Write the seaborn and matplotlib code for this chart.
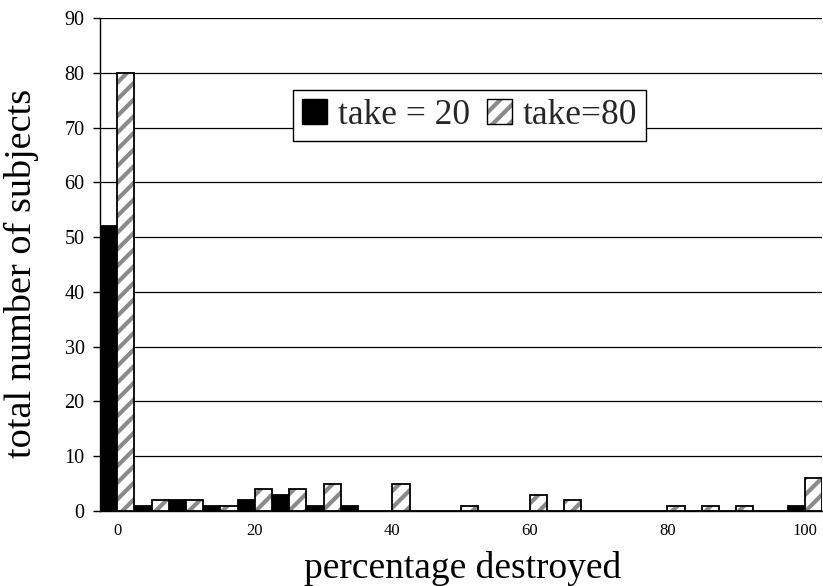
import pandas as pd
import numpy as np
import matplotlib.pyplot as plt
import matplotlib.colors as mcolors
import matplotlib.patches as mpatches
import seaborn as sns

# 1. DATA: subjects per "percentage destroyed" bin (steps of 5)
pct_bins = list(range(0, 101, 5))
take_20 = [52, 1, 2, 1, 2, 3, 1, 1, 0, 0, 0, 0, 0, 0, 0, 0, 0, 0, 0, 0, 1]
take_80 = [80, 2, 2, 1, 4, 4, 5, 0, 5, 0, 1, 0, 3, 2, 0, 0, 1, 1, 1, 0, 6]
group_names = ['take = 20', 'take=80']
x_tick_labels = ['0', '20', '40', '60', '80', '100']
y_ticks = list(range(0, 91, 10))

df = pd.DataFrame({
    'pct': pct_bins * 2,
    'count': take_20 + take_80,
    'group': [group_names[0]] * len(pct_bins) + [group_names[1]] * len(pct_bins),
})

# 2. STYLE
sns.set_theme(style='ticks')
plt.rcParams['font.family'] = ['Liberation Serif', 'DejaVu Serif']
plt.rcParams['hatch.linewidth'] = 3
hatch_gray = mcolors.to_rgba('#8a8a8a')

fig = plt.figure(figsize=(8.23, 5.86), dpi=100)
ax = fig.add_axes([0.1215, 0.128, 0.8775, 0.841])

sns.barplot(data=df, x='pct', y='count', hue='group', order=pct_bins,
            hue_order=group_names, palette=['black', 'white'], width=1.0,
            edgecolor='black', linewidth=1.3, legend=False, ax=ax, zorder=3)

# hatch the take=80 bars with gray stripes (edge stays black)
for bar in ax.containers[1]:
    bar.set_hatch('//')
    bar._hatch_color = hatch_gray

# 3. AXES
ax.set_xlim(-0.5, len(pct_bins) - 0.5)
ax.set_ylim(0, 90)
ax.set_yticks(y_ticks)
ax.set_xticks([pct_bins.index(int(t)) for t in x_tick_labels], x_tick_labels)
ax.tick_params(axis='y', direction='out', length=5, width=1, pad=6,
               labelsize=14.5, colors='black')
ax.tick_params(axis='x', length=0, pad=9, labelsize=12, colors='black')
ax.yaxis.grid(True, color='black', linewidth=0.9)
ax.set_axisbelow(True)
for side in ['top', 'right']:
    ax.spines[side].set_visible(False)
for side in ['left', 'bottom']:
    ax.spines[side].set_color('black')
    ax.spines[side].set_linewidth(1)

ax.set_xlabel('percentage destroyed', fontsize=27, color='black')
ax.set_ylabel('total number of subjects', fontsize=27.5, color='black')
ax.xaxis.set_label_coords(0.502, -0.081)
ax.yaxis.set_label_coords(-0.084, 0.482)

# 4. LEGEND
h20 = mpatches.Patch(facecolor='black', edgecolor='black', label=group_names[0])
h80 = mpatches.Patch(facecolor='white', edgecolor='black', hatch='//',
                     label=group_names[1])
h80._hatch_color = hatch_gray
leg = ax.legend(handles=[h20, h80], ncol=2, fontsize=25.5, loc='center',
                bbox_to_anchor=(0.512, 0.802), frameon=True, fancybox=False,
                framealpha=1, edgecolor='black', handlelength=0.7,
                handleheight=0.7, handletextpad=0.3, columnspacing=0.5,
                borderpad=0.25, borderaxespad=0)
leg.get_frame().set_linewidth(1)
leg.set_zorder(5)

fig.savefig('out.png', dpi=100)
